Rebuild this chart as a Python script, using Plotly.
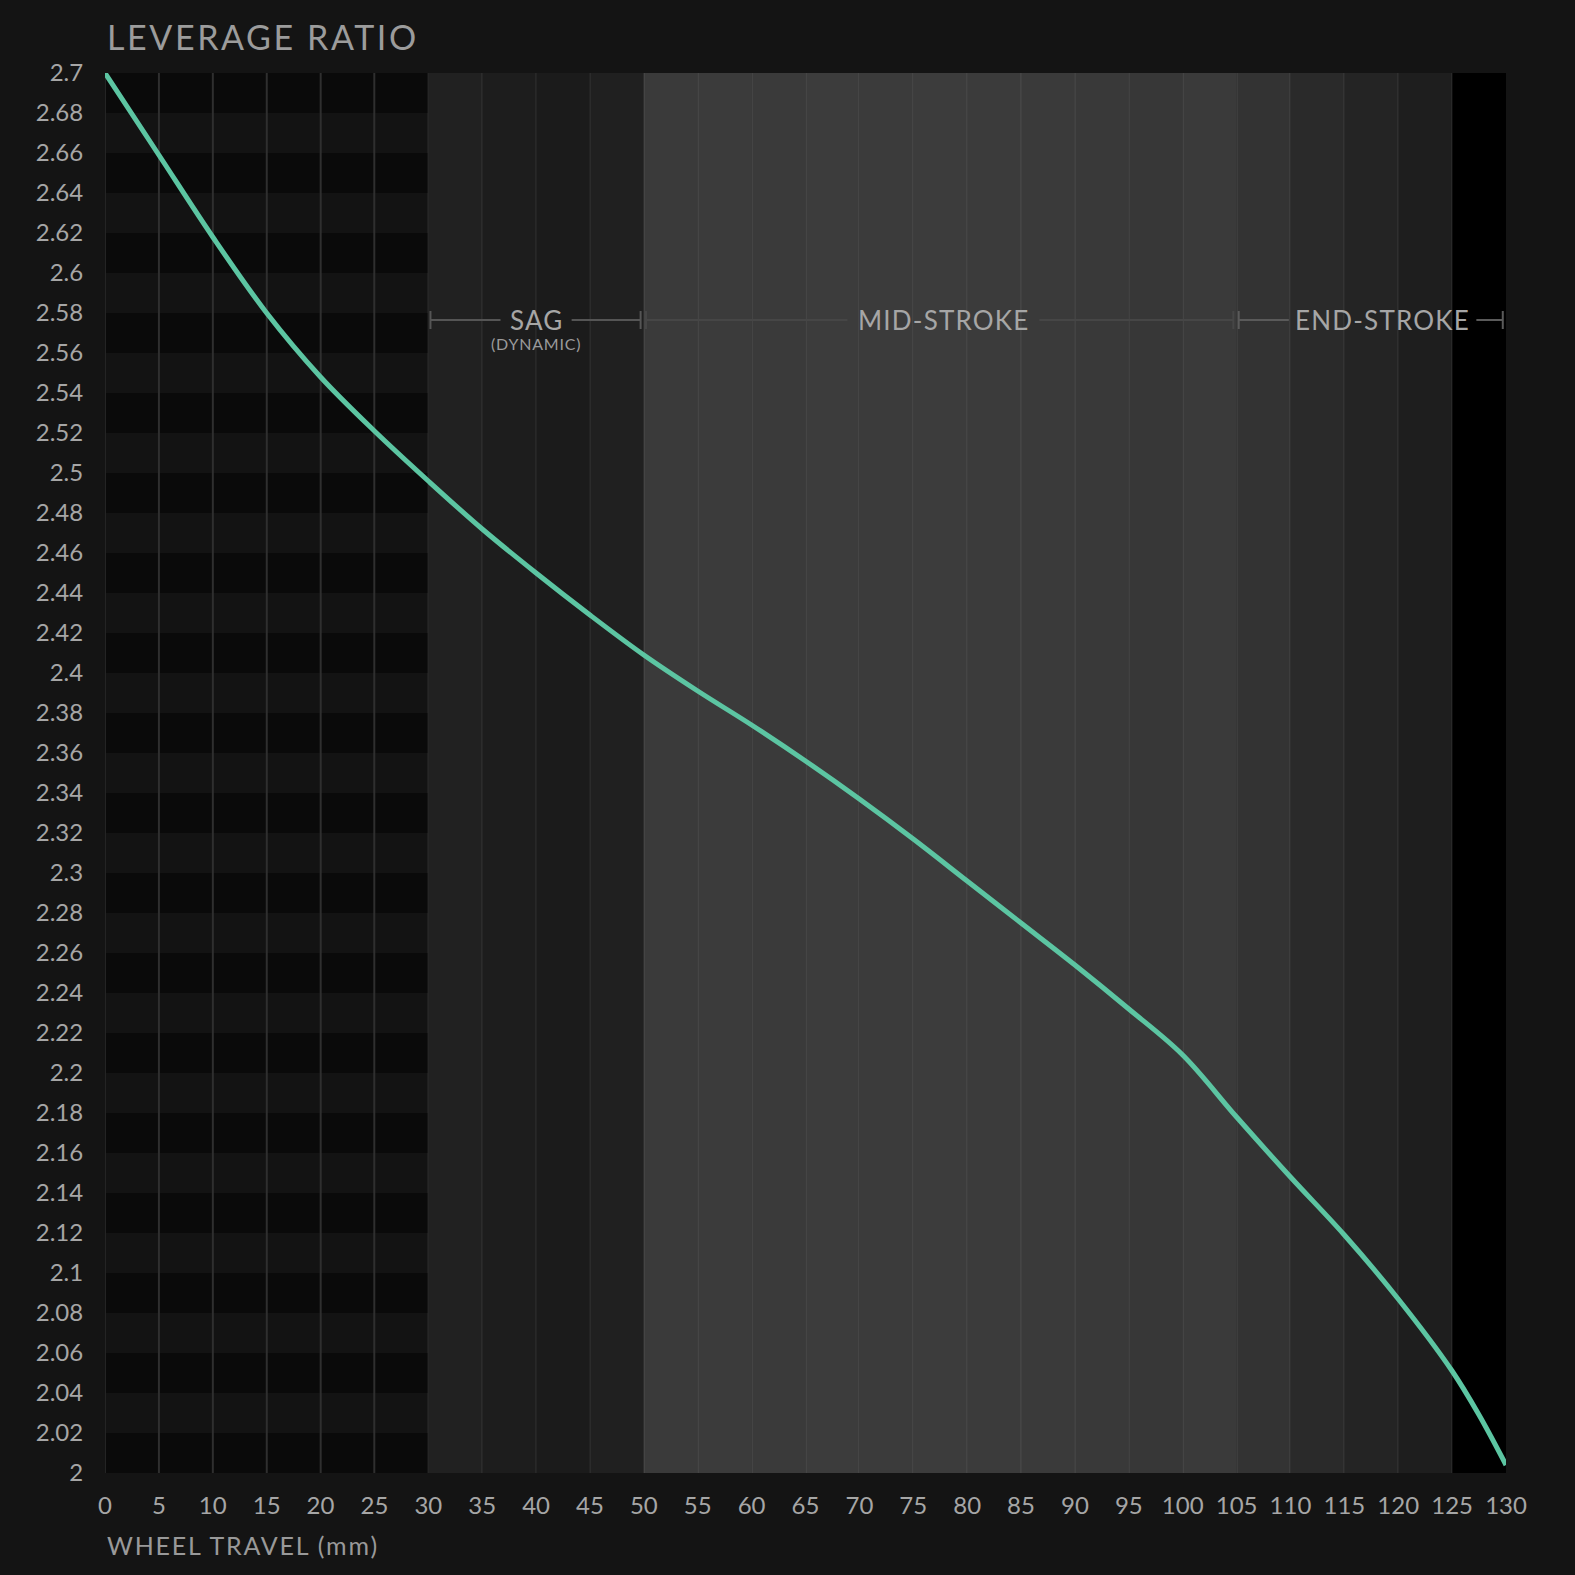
import plotly.graph_objects as go

# wheel travel (mm) and leverage ratio
travel = [0, 5, 10, 15, 20, 25, 30, 35, 40, 45, 50, 55, 60, 65,
          70, 75, 80, 85, 90, 95, 100, 105, 110, 115, 120, 125, 127.5, 130]
leverage = [2.700, 2.659, 2.618, 2.580, 2.548, 2.521, 2.496, 2.472, 2.450,
            2.429, 2.409, 2.391, 2.374, 2.356, 2.337, 2.317, 2.296, 2.275,
            2.254, 2.232, 2.209, 2.178, 2.148, 2.119, 2.087, 2.051, 2.029, 2.004]

x_ticks = [0, 5, 10, 15, 20, 25, 30, 35, 40, 45, 50, 55, 60, 65,
           70, 75, 80, 85, 90, 95, 100, 105, 110, 115, 120, 125, 130]
y_tick_labels = ["2", "2.02", "2.04", "2.06", "2.08", "2.1", "2.12", "2.14",
                 "2.16", "2.18", "2.2", "2.22", "2.24", "2.26", "2.28", "2.3",
                 "2.32", "2.34", "2.36", "2.38", "2.4", "2.42", "2.44", "2.46",
                 "2.48", "2.5", "2.52", "2.54", "2.56", "2.58", "2.6", "2.62",
                 "2.64", "2.66", "2.68", "2.7"]

# stroke zones: name, sub label, start, end, label centre
zone_names = ["SAG", "MID-STROKE", "END-STROKE"]
zone_sub = ["(DYNAMIC)", "", ""]
zone_start = [30, 50, 105]
zone_end = [50, 105, 130]
zone_label_x = [40, 77.8, 118.55]
label_y = 2.5765

FONT = "Lato"
y_vals = [float(t) for t in y_tick_labels]


def spaced(text, px):
    return '<span style="letter-spacing:%spx">%s</span>' % (px, text)


shapes = []

# 0-30 mm: striped block with grid lines
shapes.append(dict(type="rect", xref="x", yref="y", x0=0, x1=30, y0=2.0, y1=2.7,
                   fillcolor="#131313", line_width=0, layer="below"))
for i in range(0, len(y_vals) - 1, 2):
    shapes.append(dict(type="rect", xref="x", yref="y", x0=0, x1=30,
                       y0=y_vals[i], y1=y_vals[i + 1],
                       fillcolor="#0a0a0a", line_width=0, layer="below"))
for xv in x_ticks:
    if xv <= 25:
        shapes.append(dict(type="line", xref="x", yref="y", x0=xv, x1=xv, y0=2.0, y1=2.7,
                           line=dict(color="#242424", width=2), layer="below"))

# 30-130 mm: shaded 5 mm columns
col_colors = ["#212121", "#1d1d1d", "#1b1b1b", "#202020",
              "#3a3a3a", "#3b3b3b", "#3a3a3a", "#3c3c3c", "#3b3b3b", "#3c3c3c",
              "#3b3b3b", "#3a3a3a", "#393939", "#373737", "#3a3a3a",
              "#333333", "#2a2a2a", "#242424", "#1e1e1e", "#000000"]
for k, c in enumerate(col_colors):
    shapes.append(dict(type="rect", xref="x", yref="y", x0=30 + 5 * k, x1=35 + 5 * k,
                       y0=2.0, y1=2.7, fillcolor=c, line_width=0, layer="below"))

# zone brackets
half_gap = [3.3, 8.9, 8.7]
line_cols = ["#555555", "#464646", "#5a5a5a"]
annotations = []
for name, sub, s, e, mid, g, lc in zip(zone_names, zone_sub, zone_start, zone_end,
                                       zone_label_x, half_gap, line_cols):
    x0 = s + 0.2
    x1 = e - 0.3
    shapes.append(dict(type="line", xref="x", yref="y", x0=x0, x1=mid - g,
                       y0=label_y, y1=label_y, line=dict(color=lc, width=2)))
    shapes.append(dict(type="line", xref="x", yref="y", x0=mid + g, x1=x1,
                       y0=label_y, y1=label_y, line=dict(color=lc, width=2)))
    for xx in (x0, x1):
        shapes.append(dict(type="line", xref="x", yref="y", x0=xx, x1=xx,
                           y0=label_y - 0.0045, y1=label_y + 0.0045,
                           line=dict(color=lc, width=2)))
    annotations.append(dict(x=mid, y=label_y, xref="x", yref="y", text=spaced(name, 1.2),
                            showarrow=False, xanchor="center", yanchor="middle",
                            font=dict(family=FONT, size=26, color="#a6a6a6")))
    if sub:
        annotations.append(dict(x=mid, y=2.5648, xref="x", yref="y", text=spaced(sub, 0.8),
                                showarrow=False, xanchor="center", yanchor="middle",
                                font=dict(family=FONT, size=16, color="#9a9a9a")))

annotations.append(dict(x=0, y=1, xref="paper", yref="paper",
                        text=spaced("LEVERAGE RATIO", 2.6),
                        showarrow=False, xanchor="left", yanchor="middle", yshift=37,
                        font=dict(family=FONT, size=34, color="#9c9c9c")))
annotations.append(dict(x=0, y=0, xref="paper", yref="paper",
                        text=spaced("WHEEL TRAVEL (mm)", 1.8),
                        showarrow=False, xanchor="left", yanchor="middle", yshift=-72,
                        font=dict(family=FONT, size=25, color="#999999")))

fig = go.Figure()
fig.add_trace(go.Scatter(x=travel, y=leverage, mode="lines",
                         line=dict(color="#5cc5a2", width=5, shape="spline", smoothing=1.0),
                         hoverinfo="x+y", showlegend=False))

fig.update_layout(
    width=1575, height=1575,
    margin=dict(l=105, r=69, t=73, b=102),
    paper_bgcolor="#141414", plot_bgcolor="#141414",
    shapes=shapes, annotations=annotations,
    font=dict(family=FONT, color="#a6a6a6"),
)
fig.update_xaxes(range=[0, 130], tickvals=x_ticks, ticktext=[str(t) for t in x_ticks],
                 showgrid=True, gridcolor="rgba(255,255,255,0.05)", gridwidth=2,
                 zeroline=False, showline=False, ticks="outside", ticklen=11,
                 tickcolor="rgba(0,0,0,0)", tickfont=dict(family=FONT, size=24, color="#a6a6a6"))
fig.update_yaxes(range=[2.0, 2.7], tickvals=y_vals, ticktext=y_tick_labels,
                 showgrid=False, zeroline=False, showline=False, ticks="outside",
                 ticklen=16, tickcolor="rgba(0,0,0,0)",
                 tickfont=dict(family=FONT, size=24, color="#a6a6a6"))

fig.write_html("out.html", config={"displayModeBar": False},
               post_script="document.body.style.margin='0';")
